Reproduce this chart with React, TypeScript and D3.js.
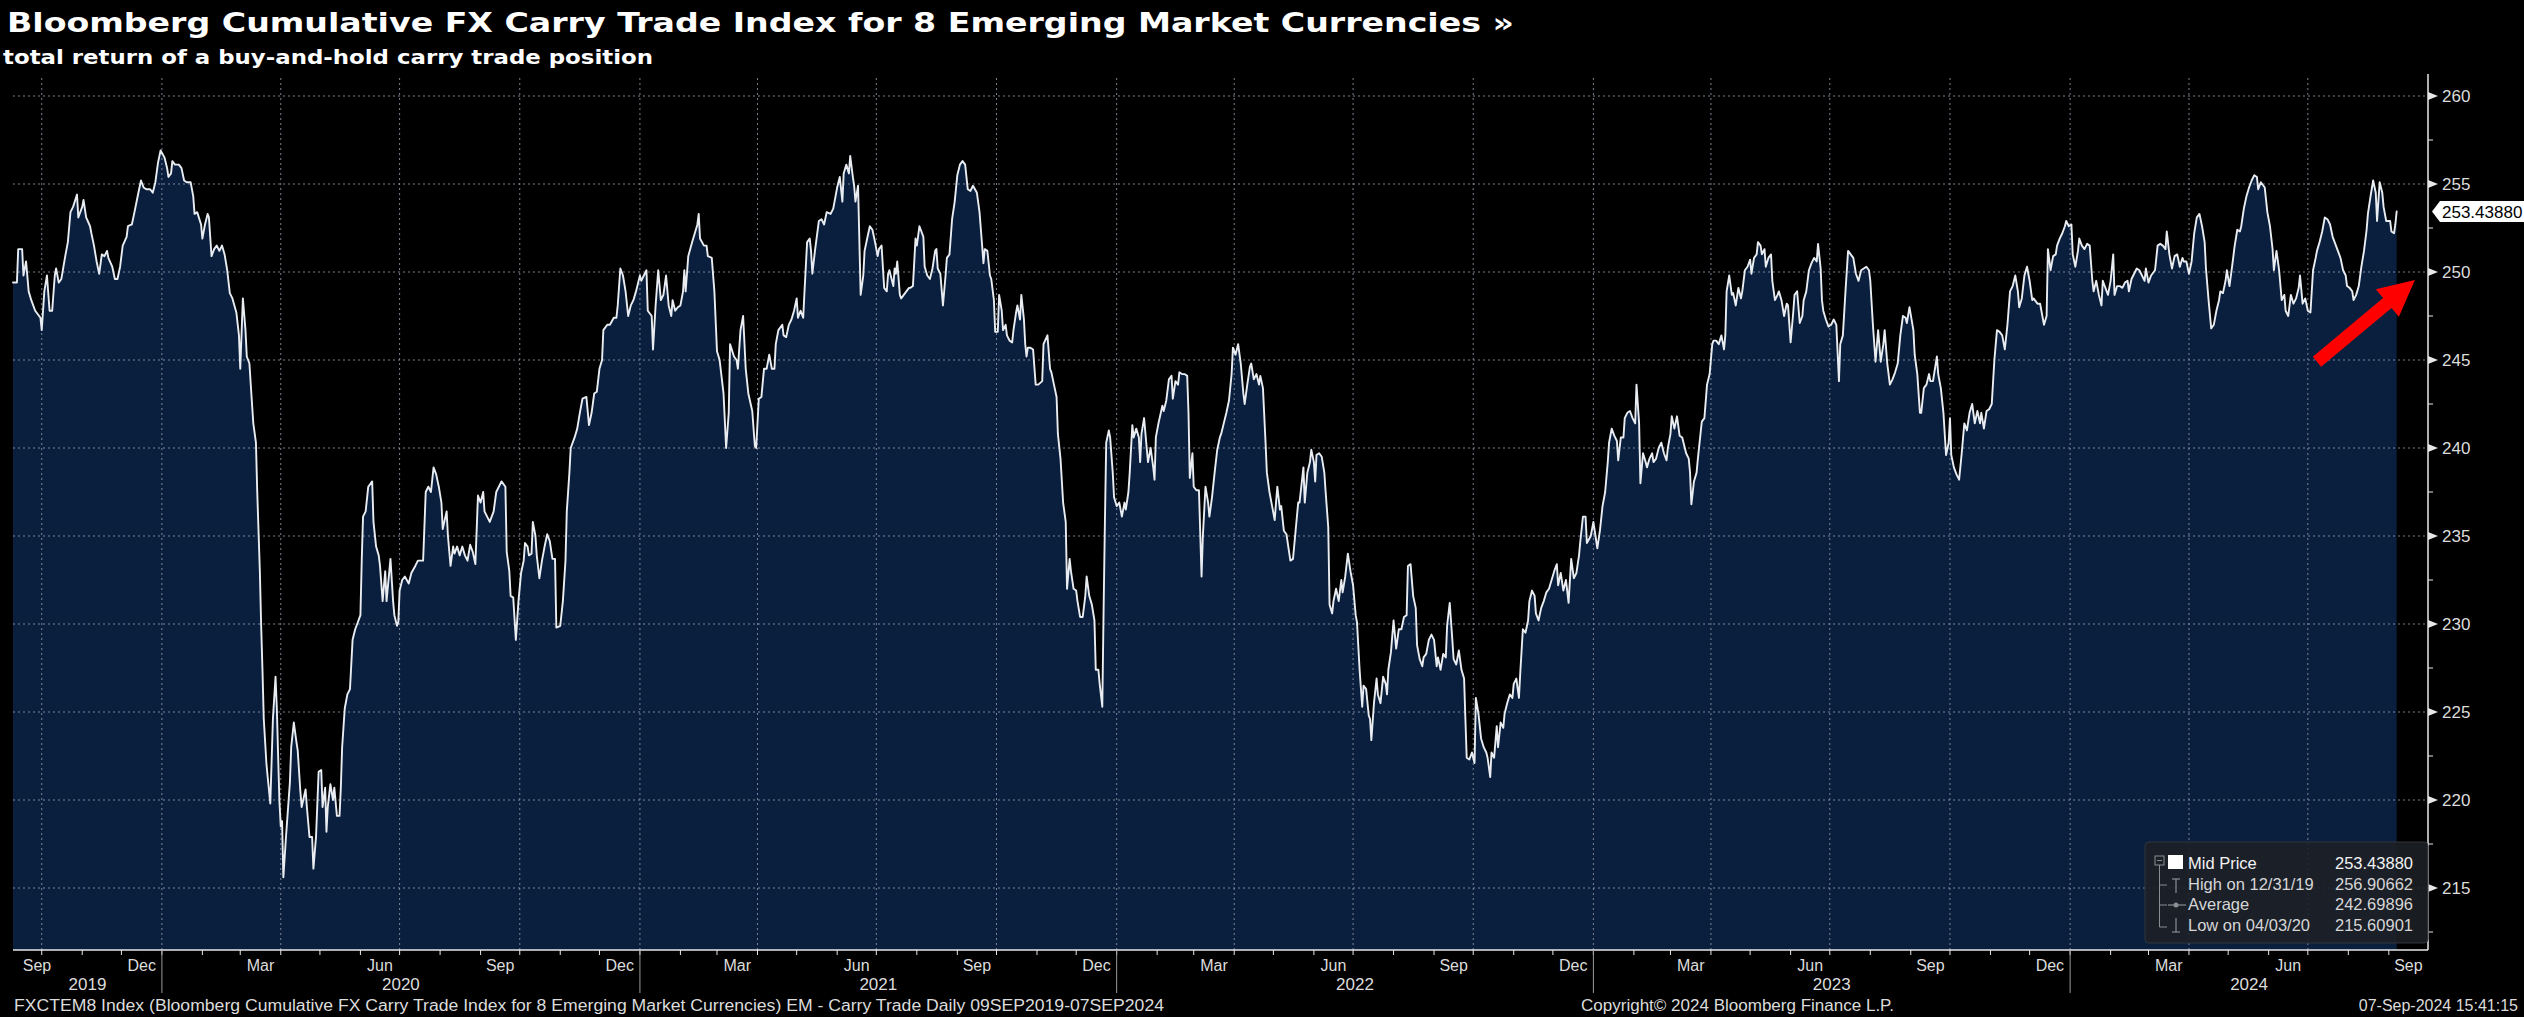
import React from "react";
import * as d3 from "d3";

// ---------- text ----------
const TITLE = "Bloomberg Cumulative FX Carry Trade Index for 8 Emerging Market Currencies »";
const SUBTITLE = "total return of a buy-and-hold carry trade position";
const FOOTER_LEFT =
  "FXCTEM8 Index (Bloomberg Cumulative FX Carry Trade Index for 8 Emerging Market Currencies) EM - Carry Trade  Daily 09SEP2019-07SEP2024";
const FOOTER_MID = "Copyright\u00A9 2024 Bloomberg Finance L.P.";
const FOOTER_RIGHT = "07-Sep-2024 15:41:15";

// ---------- axis / legend ----------
const START_DATE = "2019-09-09";
const AXIS_END_DATE = "2024-10-01";
const Y_TICKS = [215, 220, 225, 230, 235, 240, 245, 250, 255, 260];
const Y_MINOR = [212.5, 217.5, 222.5, 227.5, 232.5, 237.5, 242.5, 247.5, 252.5, 257.5];
const LABEL_MONTHS = [2, 5, 8, 11];
const LEGEND_LABELS = ["Mid Price", "High on 12/31/19", "Average", "Low on 04/03/20"];
const LEGEND_VALUES = ["253.43880", "256.90662", "242.69896", "215.60901"];
const LAST_PRICE = 253.4388;
const LAST_PRICE_LABEL = "253.43880";
// annotation arrow (date, value) tail -> tip
const ARROW_TAIL: [string, number] = ["2024-07-08", 244.9];
const ARROW_TIP: [string, number] = ["2024-09-21", 249.55];

// ---------- series: [days since 09-Sep-2019, mid price] ----------
const segSep19Sep20: [number, number][] = [
  [0,249.4],[3,249.4],[4,251.3],[7,251.3],[8,249.8],[10,250.6],[12,248.9],[14,248.4],[17,247.8],[21,247.4],[22,246.7],[24,248.9],[26,249.8],[28,247.8],[30,247.8],[32,249.8],[33,250.2],[35,249.4],[37,249.6],[40,250.9],[42,251.7],[44,253.4],[46,253.7],[49,254.4],[50,253.1],[53,253.7],[54,254.1],[56,253.1],[59,252.6],[60,252.2],[62,251.5],[64,250.6],[66,249.9],[68,251.0],[70,250.9],[72,251.2],[73,250.8],[76,250.3],[78,249.6],[80,249.6],[82,250.3],[84,251.5],[87,252.0],[88,252.6],[91,252.7],[93,253.4],[96,254.5],[98,255.2],[100,254.8],[102,254.7],[105,254.7],[107,254.5],[109,255.1],[111,256.2],[113,256.91],[116,256.5],[118,255.9],[119,255.4],[121,255.6],[122,256.3],[124,256.1],[127,256.1],[129,255.9],[131,255.2],[133,255.1],[136,255.1],[138,254.3],[139,253.3],[141,253.4],[144,252.7],[145,251.9],[147,252.7],[149,253.3],[150,253.1],[152,250.9],[154,251.3],[156,251.5],[158,251.2],[160,251.5],[162,251.0],[164,250.1],[166,248.8],[168,248.5],[171,247.7],[173,246.4],[174,244.5],[176,248.5],[178,246.7],[179,245.2],[181,244.8],[183,242.5],[184,241.4],[186,240.3],[187,237.5],[189,233.0],[190,229.9],[191,227.4],[192,224.6],[194,222.1],[195,221.3],[197,219.8],[199,224.6],[201,227.0],[202,225.2],[203,222.5],[204,219.9],[205,218.5],[206,218.8],[207,215.61],[209,217.9],[212,221.0],[213,223.0],[215,224.4],[217,223.3],[218,222.8],[220,220.5],[221,219.6],[224,220.6],[225,219.6],[227,217.9],[229,217.9],[230,216.1],[232,217.9],[234,221.6],[236,221.7],[237,219.6],[239,220.7],[240,218.2],[241,219.6],[243,220.9],[245,220.0],[246,220.7],[248,219.1],[250,219.1],[251,220.7],[252,223.0],[254,225.2],[256,226.0],[258,226.3],[260,229.1],[262,229.7],[264,230.1],[266,230.5],[267,233.6],[268,236.1],[270,236.4],[272,237.8],[275,238.1],[276,235.8],[278,234.4],[280,233.9],[281,233.3],[283,231.3],[285,233.0],[286,231.3],[289,233.7],[291,231.3],[292,230.5],[294,229.9],[295,230.1],[296,231.9],[298,232.5],[300,232.7],[303,232.3],[305,232.9],[308,233.3],[310,233.6],[312,233.6],[314,233.6],[316,237.5],[318,237.8],[320,237.5],[322,238.9],[324,238.5],[326,237.8],[328,236.9],[329,235.4],[332,236.4],[333,235.0],[335,233.3],[337,234.4],[338,234.0],[340,234.4],[342,233.9],[344,234.4],[346,233.9],[348,233.6],[350,234.5],[352,234.1],[354,233.4],[356,237.3],[358,236.9],[360,237.5],[361,236.4],[363,236.1],[365,235.8],
];
const segSep20Sep21: [number, number][] = [
  [368,236.4],[370,237.5],[374,238.1],[377,237.8],[378,234.1],[380,233.0],[381,231.6],[383,231.5],[385,229.1],[387,231.3],[389,232.9],[391,233.6],[392,234.6],[394,234.4],[395,233.9],[397,234.0],[398,235.8],[400,235.0],[401,233.9],[403,232.6],[405,233.6],[407,234.4],[409,235.1],[411,234.7],[413,233.7],[415,233.7],[416,229.8],[419,229.9],[421,231.3],[423,233.6],[424,236.4],[426,238.6],[427,240.0],[430,240.6],[432,241.1],[434,242.0],[436,242.8],[439,242.9],[441,241.3],[443,242.0],[445,243.1],[447,243.2],[449,244.5],[451,245.0],[452,246.7],[455,247.0],[457,247.0],[460,247.4],[462,247.4],[463,248.1],[465,250.2],[467,249.8],[469,248.9],[471,247.5],[473,248.1],[475,248.4],[477,248.9],[480,249.8],[481,249.5],[483,249.8],[485,250.1],[486,247.8],[489,247.5],[490,245.6],[492,248.1],[494,250.1],[496,248.4],[498,248.7],[500,249.8],[502,248.1],[504,247.5],[505,248.4],[507,247.8],[509,248.0],[511,248.1],[513,248.9],[514,250.1],[515,248.9],[517,250.9],[520,251.7],[522,252.2],[524,252.7],[525,253.3],[526,251.9],[529,251.5],[531,251.5],[532,250.9],[535,250.8],[537,248.9],[539,245.5],[541,245.0],[544,243.1],[546,240.0],[548,242.0],[549,245.9],[552,245.2],[554,245.0],[555,244.5],[557,246.7],[559,247.5],[561,244.5],[563,243.1],[566,242.1],[568,240.1],[569,240.0],[571,242.8],[573,242.9],[575,244.5],[577,244.5],[579,245.3],[581,244.5],[583,244.5],[584,245.9],[586,246.7],[589,247.0],[590,246.4],[592,246.3],[594,247.0],[596,247.3],[598,247.8],[600,248.5],[601,247.4],[603,247.8],[605,247.4],[606,248.9],[608,251.7],[610,251.9],[611,251.2],[612,249.9],[614,251.2],[617,252.9],[619,253.0],[621,252.7],[623,253.4],[626,253.3],[628,253.6],[629,254.0],[631,254.8],[633,255.4],[635,254.0],[636,255.6],[638,256.1],[640,255.6],[641,256.6],[643,255.4],[644,254.9],[645,254.0],[647,254.9],[649,248.7],[651,249.8],[652,251.2],[654,251.9],[656,252.6],[658,252.4],[660,251.7],[662,250.9],[663,251.3],[665,251.5],[667,249.1],[669,248.9],[670,249.9],[671,250.1],[674,249.2],[675,250.2],[676,249.9],[677,250.6],[679,248.7],[680,248.5],[683,248.8],[686,249.1],[687,249.1],[689,249.2],[691,251.9],[692,251.5],[694,252.6],[696,252.2],[697,252.0],[698,250.3],[700,249.8],[702,249.6],[704,250.2],[706,251.2],[707,251.3],[708,250.2],[710,249.9],[712,248.1],[714,249.8],[715,250.8],[717,251.0],[719,253.0],[721,254.0],[723,255.5],[725,256.1],[727,256.3],[729,256.1],[731,254.7],
];
const segSep21Sep22: [number, number][] = [
  [733,254.6],[735,254.9],[738,254.5],[740,253.4],[742,251.5],[743,250.5],[744,251.3],[746,251.2],[748,249.8],[749,249.6],[751,248.4],[752,246.6],[754,246.6],[755,248.7],[757,247.8],[758,246.7],[760,247.0],[761,246.4],[763,246.1],[765,246.0],[766,246.7],[768,247.7],[769,248.1],[771,247.3],[772,248.7],[774,247.3],[775,245.9],[776,245.2],[777,245.7],[779,245.7],[781,245.6],[783,243.6],[785,243.6],[788,243.8],[789,245.9],[792,246.4],[794,244.5],[795,244.3],[797,243.6],[799,242.9],[800,240.8],[802,239.4],[804,236.9],[806,235.8],[807,232.0],[809,233.7],[810,233.0],[812,232.0],[814,231.9],[815,231.3],[817,230.4],[819,230.4],[821,231.6],[822,232.7],[824,231.6],[826,231.1],[828,230.2],[829,227.4],[831,227.4],[832,226.6],[834,225.3],[835,230.8],[836,235.8],[837,240.3],[839,241.0],[840,240.6],[842,238.6],[843,237.2],[845,236.7],[847,236.9],[849,236.1],[851,236.9],[852,236.5],[854,237.5],[855,238.6],[857,241.3],[858,240.6],[860,241.1],[862,240.6],[863,239.2],[864,240.8],[866,241.7],[868,240.0],[869,239.2],[871,240.0],[873,238.9],[874,238.2],[875,240.6],[877,241.4],[880,242.4],[881,242.1],[883,242.7],[885,243.9],[887,244.1],[888,242.8],[890,243.8],[892,243.6],[893,244.3],[895,244.2],[897,244.2],[899,244.1],[900,242.0],[901,238.3],[903,239.7],[904,237.8],[906,237.6],[908,237.6],[910,232.7],[911,235.0],[913,237.8],[915,236.9],[916,236.1],[918,237.2],[920,238.6],[922,239.9],[924,240.6],[925,240.8],[927,241.4],[929,242.0],[931,242.7],[933,244.2],[934,245.7],[936,245.3],[938,245.9],[940,244.8],[942,243.1],[943,242.5],[945,243.6],[947,244.6],[948,244.8],[950,243.9],[952,244.2],[954,243.6],[955,244.1],[957,243.4],[959,240.3],[960,238.6],[962,237.5],[964,236.7],[966,235.9],[967,236.9],[968,237.8],[970,236.5],[971,236.7],[973,235.3],[975,235.1],[977,234.1],[978,233.6],[980,233.7],[982,235.3],[984,236.9],[985,236.9],[988,238.9],[989,236.9],[991,238.6],[993,239.2],[994,239.9],[996,239.2],[997,238.1],[998,239.6],[1000,239.7],[1002,239.5],[1004,238.6],[1005,237.5],[1007,235.5],[1008,231.1],[1010,230.6],[1011,231.3],[1013,232.0],[1015,231.3],[1017,232.5],[1018,231.8],[1020,232.7],[1022,234.0],[1024,233.0],[1026,232.2],[1028,230.5],[1029,230.1],[1031,227.4],[1033,225.3],[1034,226.5],[1036,226.3],[1038,224.8],[1039,224.6],[1040,223.4],[1042,225.5],[1044,226.9],[1045,226.0],[1047,225.5],[1049,227.0],[1051,226.6],[1052,226.0],[1053,227.4],[1055,228.4],[1057,230.2],[1059,228.6],[1061,229.7],[1063,229.7],[1065,230.4],[1067,230.5],[1068,233.3],[1070,233.4],[1072,231.6],[1074,230.9],[1075,228.8],[1077,228.0],[1079,227.6],[1080,228.1],[1082,228.3],[1084,229.1],[1086,229.4],[1088,229.1],[1090,227.6],[1091,228.1],[1093,227.4],[1095,228.3],[1097,228.1],[1098,229.9],
];
const segSep22Sep23: [number, number][] = [
  [1100,231.2],[1102,229.1],[1103,228.0],[1105,227.7],[1107,228.5],[1109,227.4],[1111,226.9],[1112,224.6],[1113,222.4],[1115,222.3],[1117,222.7],[1119,222.1],[1120,225.8],[1122,224.9],[1124,223.5],[1126,223.0],[1128,222.7],[1129,222.4],[1131,221.3],[1132,222.7],[1134,222.4],[1136,224.2],[1137,223.0],[1139,224.4],[1141,224.1],[1142,224.9],[1144,225.5],[1146,226.0],[1148,225.8],[1149,226.6],[1151,226.9],[1153,225.8],[1154,227.2],[1156,229.7],[1158,229.5],[1160,230.2],[1161,231.3],[1163,231.9],[1165,231.6],[1166,230.6],[1168,230.2],[1170,230.9],[1172,231.3],[1174,231.8],[1176,232.0],[1178,232.5],[1180,233.0],[1182,233.4],[1183,232.2],[1185,232.9],[1187,231.9],[1189,232.5],[1191,231.2],[1193,233.7],[1195,232.6],[1197,232.9],[1199,233.9],[1200,234.7],[1202,236.1],[1204,236.1],[1205,234.6],[1208,235.0],[1210,235.8],[1211,235.3],[1213,234.3],[1215,235.3],[1217,236.7],[1219,237.5],[1221,239.2],[1222,240.3],[1224,241.1],[1226,240.7],[1228,240.4],[1229,239.3],[1231,240.6],[1233,240.6],[1234,241.7],[1236,242.0],[1238,242.1],[1240,241.7],[1242,241.4],[1243,243.6],[1245,241.4],[1246,238.0],[1248,239.7],[1250,239.2],[1251,238.9],[1253,239.4],[1255,239.7],[1256,239.2],[1258,239.4],[1260,240.0],[1262,240.3],[1264,239.7],[1266,239.3],[1267,240.0],[1269,240.8],[1270,241.8],[1272,241.1],[1274,241.8],[1276,240.7],[1278,240.6],[1279,240.3],[1281,239.7],[1283,239.4],[1284,238.6],[1285,236.8],[1287,238.1],[1289,238.6],[1290,239.4],[1292,240.8],[1293,241.5],[1295,241.7],[1297,243.6],[1299,244.2],[1301,245.9],[1302,246.1],[1304,246.1],[1306,245.9],[1308,246.4],[1310,245.6],[1311,246.4],[1312,248.9],[1314,249.8],[1316,248.7],[1317,248.8],[1319,248.1],[1321,249.1],[1323,248.5],[1324,248.9],[1326,250.1],[1328,250.3],[1330,250.7],[1331,249.9],[1333,250.8],[1335,251.0],[1336,251.7],[1338,251.5],[1339,251.0],[1341,251.3],[1342,250.3],[1344,250.8],[1346,251.0],[1347,249.5],[1349,248.4],[1351,248.7],[1352,248.9],[1354,248.4],[1356,247.5],[1358,248.2],[1359,248.1],[1361,246.0],[1363,247.7],[1364,248.7],[1366,248.9],[1368,247.1],[1370,247.5],[1371,248.4],[1373,248.9],[1375,250.1],[1377,250.5],[1379,250.8],[1381,250.6],[1382,251.6],[1384,250.2],[1385,248.4],[1386,247.8],[1388,247.3],[1390,246.9],[1392,247.0],[1394,247.3],[1396,247.0],[1398,243.8],[1399,245.9],[1401,246.4],[1403,248.9],[1405,251.2],[1407,251.0],[1409,250.8],[1411,249.9],[1413,249.5],[1415,250.1],[1417,250.2],[1419,250.3],[1421,250.1],[1422,249.5],[1424,247.0],[1426,244.9],[1428,246.7],[1430,244.9],[1432,245.9],[1433,246.7],[1435,244.8],[1437,243.6],[1439,243.9],[1441,244.3],[1443,244.8],[1445,246.4],[1447,247.5],[1449,247.4],[1450,247.1],[1452,248.0],[1455,246.7],[1456,245.3],[1458,244.2],[1460,242.0],[1461,242.0],[1463,243.4],[1465,243.6],[1467,244.2],
];
const segSep23Sep24: [number, number][] = [
  [1468,243.8],[1470,243.8],[1473,245.2],[1474,244.2],[1476,243.4],[1478,242.0],[1480,239.6],[1482,240.3],[1483,241.7],[1484,239.6],[1486,238.9],[1488,238.5],[1490,238.2],[1492,239.7],[1494,241.4],[1496,241.0],[1498,242.0],[1500,242.5],[1502,241.4],[1504,242.1],[1506,241.4],[1507,242.0],[1509,241.1],[1511,242.1],[1513,242.2],[1515,242.5],[1517,245.0],[1519,246.7],[1521,246.6],[1523,246.4],[1525,245.6],[1527,247.0],[1529,248.9],[1531,249.2],[1533,249.8],[1535,248.9],[1536,248.0],[1538,248.5],[1540,249.8],[1542,250.3],[1544,249.5],[1546,248.4],[1547,248.5],[1550,248.2],[1552,248.2],[1553,247.8],[1555,247.0],[1557,247.5],[1558,251.3],[1560,250.1],[1562,250.9],[1564,251.0],[1565,251.5],[1567,251.9],[1569,252.2],[1571,252.6],[1572,252.9],[1574,252.6],[1576,252.7],[1577,251.0],[1579,250.3],[1581,251.2],[1582,251.9],[1584,251.5],[1586,251.3],[1588,251.6],[1590,251.5],[1592,249.5],[1593,248.9],[1595,249.5],[1597,248.7],[1599,248.1],[1600,249.5],[1602,249.1],[1604,248.7],[1606,249.5],[1608,251.0],[1609,248.7],[1611,249.2],[1613,249.2],[1615,249.1],[1617,249.4],[1619,249.5],[1620,248.9],[1622,249.6],[1624,249.9],[1626,250.2],[1628,250.1],[1630,249.8],[1632,249.5],[1633,250.2],[1635,249.4],[1637,249.8],[1638,249.9],[1640,250.1],[1642,251.5],[1644,251.6],[1646,251.5],[1648,251.3],[1649,252.3],[1651,251.0],[1653,250.2],[1655,250.9],[1657,251.0],[1659,250.3],[1661,250.8],[1662,250.6],[1664,250.6],[1666,249.9],[1668,250.6],[1670,252.2],[1672,253.1],[1674,253.3],[1676,252.6],[1678,251.7],[1679,250.2],[1681,248.4],[1683,246.8],[1685,247.0],[1687,247.8],[1689,248.4],[1690,248.9],[1692,248.8],[1694,249.5],[1695,250.1],[1697,249.2],[1699,250.3],[1701,251.5],[1703,252.4],[1705,252.3],[1706,252.6],[1708,253.6],[1710,254.3],[1712,254.8],[1714,255.2],[1716,255.5],[1718,255.4],[1719,254.7],[1721,255.1],[1723,254.9],[1724,254.8],[1726,253.4],[1728,252.6],[1730,251.3],[1731,250.1],[1733,251.2],[1735,250.1],[1737,248.4],[1739,248.7],[1740,247.8],[1742,247.5],[1744,248.7],[1746,248.2],[1748,248.5],[1750,249.1],[1751,249.8],[1753,248.2],[1755,248.5],[1757,247.8],[1759,247.7],[1761,250.1],[1763,250.8],[1764,251.2],[1766,251.7],[1768,252.3],[1770,253.1],[1772,253.0],[1774,252.7],[1776,252.0],[1778,251.6],[1780,251.2],[1782,250.8],[1784,250.1],[1786,249.8],[1787,249.2],[1789,249.1],[1791,248.9],[1792,248.4],[1794,248.7],[1796,249.2],[1798,250.3],[1800,251.2],[1802,252.4],[1803,253.3],[1805,254.3],[1807,255.2],[1809,254.5],[1810,252.9],[1812,255.1],[1814,254.5],[1815,253.7],[1817,252.9],[1820,252.9],[1821,252.3],[1823,252.2],[1824,252.7],[1825,253.4388],
];

const SEGMENTS = [segSep19Sep20, segSep20Sep21, segSep21Sep22, segSep22Sep23, segSep23Sep24];

// ---------- layout ----------
const W = 2524;
const H = 1017;
const PLOT_LEFT = 13;
const PLOT_RIGHT = 2428;
const PLOT_TOP = 74;
const PLOT_BOTTOM = 950;

const COLORS = {
  bg: "#000000",
  area: "#0a1f3d",
  line: "#e9edf2",
  grid: "#8e98a6",
  axis: "#e8e8e8",
  text: "#dcdcdc",
  legendBg: "rgba(28,32,38,0.88)",
  legendBorder: "#30353d",
  legendIcon: "#8a8d92",
  arrow: "#ff0000",
};

const AXIS_FONT = "'Liberation Sans', Arial, sans-serif";
const TITLE_FONT = "'DejaVu Sans', Verdana, sans-serif";

export default function App() {
  const start = new Date(START_DATE + "T00:00:00Z");
  const axisEnd = new Date(AXIS_END_DATE + "T00:00:00Z");

  const data = SEGMENTS.flat().map(([d, v]) => ({ date: d3.utcDay.offset(start, d), v }));

  const x = d3.scaleUtc().domain([start, axisEnd]).range([PLOT_LEFT, PLOT_RIGHT]);
  const y = d3.scaleLinear().domain([215, 260]).range([888, 96]);

  const area = d3
    .area<{ date: Date; v: number }>()
    .x((d) => x(d.date))
    .y0(PLOT_BOTTOM)
    .y1((d) => y(d.v));
  const line = d3
    .line<{ date: Date; v: number }>()
    .x((d) => x(d.date))
    .y((d) => y(d.v));

  const quarterStarts = d3.utcMonth.every(3)!.range(start, axisEnd);
  const monthStarts = d3.utcMonth.range(start, axisEnd);
  const labelMonths = d3.utcMonth
    .range(d3.utcMonth.floor(start), axisEnd)
    .filter((m) => LABEL_MONTHS.includes(m.getUTCMonth()));
  const yearStarts = d3.utcYear.range(start, axisEnd);
  const years = d3.range(start.getUTCFullYear(), axisEnd.getUTCFullYear() + 1);

  const lastY = y(LAST_PRICE);

  // arrow geometry from data-space anchors
  const ax0 = x(new Date(ARROW_TAIL[0] + "T00:00:00Z"));
  const ay0 = y(ARROW_TAIL[1]);
  const ax1 = x(new Date(ARROW_TIP[0] + "T00:00:00Z"));
  const ay1 = y(ARROW_TIP[1]);
  const ang = Math.atan2(ay1 - ay0, ax1 - ax0);
  const len = Math.hypot(ax1 - ax0, ay1 - ay0);
  const headLen = 36;
  const headHalf = 18;
  const shaftHalf = 6.5;
  const arrowPts = [
    [0, -shaftHalf],
    [len - headLen, -shaftHalf],
    [len - headLen, -headHalf],
    [len, 0],
    [len - headLen, headHalf],
    [len - headLen, shaftHalf],
    [0, shaftHalf],
  ]
    .map(([px, py]) => {
      const rx = ax0 + px * Math.cos(ang) - py * Math.sin(ang);
      const ry = ay0 + px * Math.sin(ang) + py * Math.cos(ang);
      return `${rx.toFixed(1)},${ry.toFixed(1)}`;
    })
    .join(" ");

  // legend layout
  const LG = { x: 2145, y: 842, w: 283, h: 101 };
  const rowBase = [869, 890, 910, 931];
  const iconX = 2176;
  const treeX = 2159.5;

  return (
    <div style={{ position: "fixed", left: 0, top: 0, width: W, height: H, background: COLORS.bg }}>
      <svg width={W} height={H} style={{ display: "block" }}>
        <rect x={0} y={0} width={W} height={H} fill={COLORS.bg} />

        {/* titles */}
        <text x={7} y={32} fill="#ffffff" fontFamily={TITLE_FONT} fontWeight="bold" fontSize={27}
          textLength={1507} lengthAdjust="spacingAndGlyphs">{TITLE}</text>
        <text x={3} y={64} fill="#ffffff" fontFamily={TITLE_FONT} fontWeight="bold" fontSize={19.5}
          textLength={650} lengthAdjust="spacingAndGlyphs">{SUBTITLE}</text>

        {/* area */}
        <path d={area(data) || ""} fill={COLORS.area} />

        {/* grid */}
        {Y_TICKS.map((t) => (
          <line key={"gy" + t} x1={PLOT_LEFT} x2={PLOT_RIGHT} y1={y(t)} y2={y(t)}
            stroke={COLORS.grid} strokeWidth={1} strokeDasharray="2 3" opacity={0.85} />
        ))}
        {quarterStarts.map((d) => (
          <line key={"gx" + d.toISOString()} x1={x(d)} x2={x(d)} y1={PLOT_TOP + 4} y2={PLOT_BOTTOM}
            stroke={COLORS.grid} strokeWidth={1} strokeDasharray="2 3" opacity={0.85} />
        ))}

        {/* series line */}
        <path d={line(data) || ""} fill="none" stroke={COLORS.line} strokeWidth={1.9}
          strokeLinejoin="round" strokeLinecap="round" />

        {/* right axis */}
        <line x1={PLOT_RIGHT} x2={PLOT_RIGHT} y1={PLOT_TOP} y2={PLOT_BOTTOM} stroke={COLORS.axis} strokeWidth={1.5} />
        {Y_TICKS.map((t) => (
          <g key={"yt" + t}>
            <polygon points={`${PLOT_RIGHT},${y(t) - 4} ${PLOT_RIGHT + 10},${y(t)} ${PLOT_RIGHT},${y(t) + 4}`} fill={COLORS.axis} />
            <text x={PLOT_RIGHT + 14} y={y(t)} dy="0.35em" fill={COLORS.text} fontFamily={AXIS_FONT} fontSize={17}>{t}</text>
          </g>
        ))}
        {Y_MINOR.map((t) => (
          <line key={"ym" + t} x1={PLOT_RIGHT} x2={PLOT_RIGHT + 5} y1={y(t)} y2={y(t)} stroke={COLORS.axis} strokeWidth={1} />
        ))}

        {/* last price tag */}
        <polygon
          points={`${PLOT_RIGHT + 4},${lastY} ${PLOT_RIGHT + 12},${lastY - 10.5} ${W},${lastY - 10.5} ${W},${lastY + 10.5} ${PLOT_RIGHT + 12},${lastY + 10.5}`}
          fill="#ffffff" />
        <text x={PLOT_RIGHT + 14} y={lastY} dy="0.36em" fill="#000000" fontFamily={AXIS_FONT} fontSize={17}>{LAST_PRICE_LABEL}</text>

        {/* bottom axis */}
        <line x1={PLOT_LEFT} x2={PLOT_RIGHT} y1={PLOT_BOTTOM} y2={PLOT_BOTTOM} stroke={COLORS.axis} strokeWidth={1.5} />
        {monthStarts.map((d) => (
          <line key={"mt" + d.toISOString()} x1={x(d)} x2={x(d)} y1={PLOT_BOTTOM} y2={PLOT_BOTTOM + 5}
            stroke={COLORS.axis} strokeWidth={1} />
        ))}
        {yearStarts.map((d) => (
          <line key={"ys" + d.toISOString()} x1={x(d)} x2={x(d)} y1={PLOT_BOTTOM} y2={PLOT_BOTTOM + 43}
            stroke="#9a9a9a" strokeWidth={1} />
        ))}
        {labelMonths.map((m) => {
          const next = d3.utcMonth.offset(m, 1);
          const c = Math.max((x(m) + x(next)) / 2, PLOT_LEFT + 24);
          return (
            <text key={"ml" + m.toISOString()} x={c} y={971} textAnchor="middle" fill={COLORS.text}
              fontFamily={AXIS_FONT} fontSize={16}>{d3.utcFormat("%b")(m)}</text>
          );
        })}
        {years.map((yr) => {
          const a = Math.max(+new Date(Date.UTC(yr, 0, 1)), +start);
          const b = Math.min(+new Date(Date.UTC(yr + 1, 0, 1)), +axisEnd);
          const c = (x(new Date(a)) + x(new Date(b))) / 2;
          return (
            <text key={"yl" + yr} x={c} y={990} textAnchor="middle" fill={COLORS.text}
              fontFamily={AXIS_FONT} fontSize={17}>{yr}</text>
          );
        })}

        {/* legend */}
        <rect x={LG.x} y={LG.y} width={LG.w} height={LG.h} rx={4} fill={COLORS.legendBg} stroke={COLORS.legendBorder} strokeWidth={1} />
        <rect x={treeX - 4.5} y={856} width={9} height={9} fill="none" stroke={COLORS.legendIcon} strokeWidth={1} />
        <line x1={treeX - 2.5} x2={treeX + 2.5} y1={860.5} y2={860.5} stroke={COLORS.legendIcon} strokeWidth={1} />
        <line x1={treeX} x2={treeX} y1={865} y2={927} stroke={COLORS.legendIcon} strokeWidth={1} />
        {[885, 905, 927].map((yy) => (
          <line key={"br" + yy} x1={treeX} x2={2167} y1={yy} y2={yy} stroke={COLORS.legendIcon} strokeWidth={1} />
        ))}
        <rect x={2168} y={855} width={15} height={14} fill="#ffffff" />
        <line x1={iconX - 4} x2={iconX + 4} y1={879} y2={879} stroke={COLORS.legendIcon} strokeWidth={1.2} />
        <line x1={iconX} x2={iconX} y1={879} y2={893} stroke={COLORS.legendIcon} strokeWidth={1.2} />
        <line x1={2168} x2={2186} y1={905} y2={905} stroke={COLORS.legendIcon} strokeWidth={1.2} />
        <circle cx={iconX} cy={905} r={2.5} fill={COLORS.legendIcon} />
        <line x1={iconX} x2={iconX} y1={918} y2={932} stroke={COLORS.legendIcon} strokeWidth={1.2} />
        <line x1={iconX - 4} x2={iconX + 4} y1={932} y2={932} stroke={COLORS.legendIcon} strokeWidth={1.2} />
        {LEGEND_LABELS.map((lab, i) => (
          <g key={"lg" + i}>
            <text x={2188} y={rowBase[i]} fill={i === 0 ? "#f2f2f2" : "#d6d6d6"} fontFamily={AXIS_FONT} fontSize={16.5}>{lab}</text>
            <text x={2413} y={rowBase[i]} textAnchor="end" fill={i === 0 ? "#f2f2f2" : "#d6d6d6"} fontFamily={AXIS_FONT} fontSize={16.5}>{LEGEND_VALUES[i]}</text>
          </g>
        ))}

        {/* annotation arrow */}
        <polygon points={arrowPts} fill={COLORS.arrow} />

        {/* footer */}
        <text x={14} y={1011} fill={COLORS.text} fontFamily={AXIS_FONT} fontSize={16}
          textLength={1150} lengthAdjust="spacingAndGlyphs">{FOOTER_LEFT}</text>
        <text x={1581} y={1011} fill={COLORS.text} fontFamily={AXIS_FONT} fontSize={16}
          textLength={313} lengthAdjust="spacingAndGlyphs">{FOOTER_MID}</text>
        <text x={2518} y={1011} textAnchor="end" fill={COLORS.text} fontFamily={AXIS_FONT} fontSize={16}>{FOOTER_RIGHT}</text>
      </svg>
    </div>
  );
}
